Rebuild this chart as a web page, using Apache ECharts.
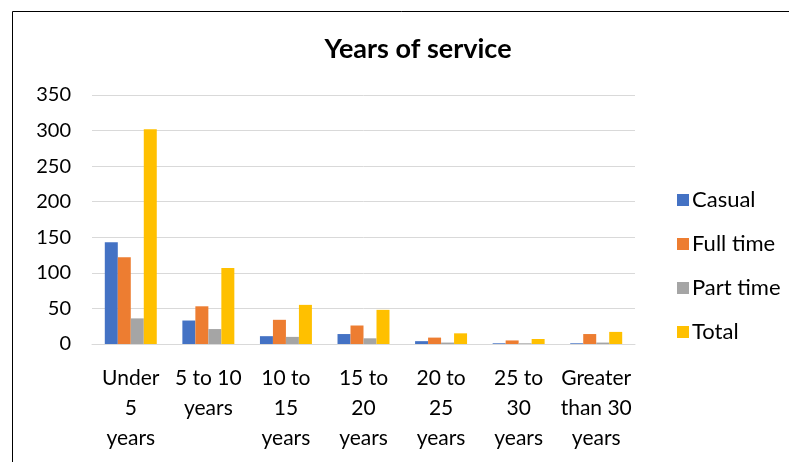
<!DOCTYPE html>
<html><head><meta charset="utf-8">
<script src="https://cdn.jsdelivr.net/npm/echarts@6/dist/echarts.min.js"></script>
<style>html,body{margin:0;padding:0;background:#fff}#c{width:789px;height:462px}</style>
</head><body><div id="c"></div>
<script>
const categories = ["Under\n5\nyears","5 to 10\nyears","10 to\n15\nyears","15 to\n20\nyears","20 to\n25\nyears","25 to\n30\nyears","Greater\nthan 30\nyears"];
const casual   = [143, 33, 11, 14, 4, 1, 1];
const fullTime = [122, 53, 34, 26, 9, 5, 14];
const partTime = [36, 21, 10, 8, 2, 1, 2];
const total    = [302, 107, 55, 48, 15, 7, 17];
const yTicks = [0, 50, 100, 150, 200, 250, 300, 350];

const FONT = 'Lato, "Open Sans", sans-serif';
const chart = echarts.init(document.getElementById('c'));
chart.setOption({
  animation: false,
  backgroundColor: '#fff',
  graphic: [{type:'rect', shape:{x:12.5,y:11.5,width:800,height:500}, style:{fill:'none',stroke:'#000',lineWidth:1}, silent:true}],
  title: {text:'Years of service', left:413, top:31, textAlign:'center',
    textStyle:{fontFamily:FONT, fontSize:27, fontWeight:'bold', color:'#000'}},
  legend: {orient:'vertical', left:672, top:184, itemWidth:12, itemHeight:12, itemGap:22,
    icon:'rect', textStyle:{fontFamily:FONT, fontSize:22, color:'#000', padding:[0,0,0,-2]},
    data:['Casual','Full time','Part time','Total']},
  grid: {left:92, right:154, top:95, bottom:118, containLabel:false},
  xAxis: {type:'category', data:categories,
    axisLine:{show:true, lineStyle:{color:'#d9d9d9'}}, axisTick:{show:false},
    axisLabel:{fontFamily:FONT, fontSize:21, color:'#000', lineHeight:30, margin:19, interval:0}},
  yAxis: {type:'value', min:yTicks[0], max:yTicks[yTicks.length-1], interval:50,
    axisLine:{show:false}, axisTick:{show:false},
    splitLine:{lineStyle:{color:'#d9d9d9', width:1}},
    axisLabel:{fontFamily:FONT, fontSize:20, color:'#000', margin:21}},
  series: [
    {name:'Casual', type:'bar', data:casual, itemStyle:{color:'#4472C4'}, barGap:'0%', barCategoryGap:'33%'},
    {name:'Full time', type:'bar', data:fullTime, itemStyle:{color:'#ED7D31'}},
    {name:'Part time', type:'bar', data:partTime, itemStyle:{color:'#A5A5A5'}},
    {name:'Total', type:'bar', data:total, itemStyle:{color:'#FFC000'}}
  ]
});
</script></body></html>
